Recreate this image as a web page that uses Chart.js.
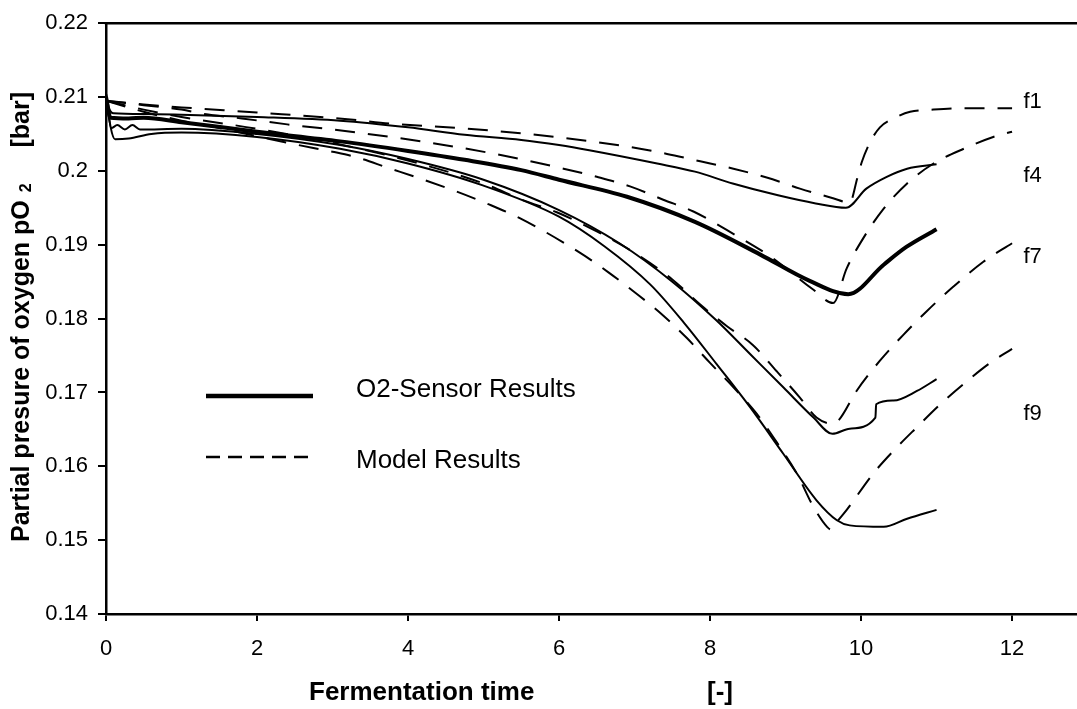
<!DOCTYPE html>
<html>
<head>
<meta charset="utf-8">
<script src="https://cdn.jsdelivr.net/npm/chart.js@4.4.1/dist/chart.umd.min.js"></script>
<style>
  html, body { margin: 0; padding: 0; background: #fff; overflow: hidden; }
</style>
</head>
<body>
<canvas id="o2Chart" width="1077" height="709"></canvas>
<script>
// fermentation runs f1..f9: sensor readings and model output (pO2 in bar)
const f1SensorT = [0, 0.04, 0.1, 0.5, 1, 2, 3.1, 4, 4.75, 5.5, 6.0, 6.4, 7.3, 7.8, 8.3, 8.9, 9.4, 9.8, 10.07, 10.34, 10.61, 11.0];
const f1SensorP = [0.2105, 0.2085, 0.2078, 0.2077, 0.2076, 0.2073, 0.2068, 0.2059, 0.2049, 0.2042, 0.2035, 0.2028, 0.2010, 0.1999, 0.1983, 0.1967, 0.1956, 0.1950, 0.1976, 0.1992, 0.2003, 0.2009];

const f1ModelT = [0, 0.5, 1, 2, 3.2, 3.76, 4.69, 5.59, 6.04, 6.5, 6.96, 7.43, 7.87, 8.31, 8.75, 9.19, 9.63, 9.85, 9.95, 10.01, 10.12, 10.25, 10.43, 10.65, 10.96, 11.4, 11.84, 12];
const f1ModelP = [0.2095, 0.2090, 0.2086, 0.2079, 0.2070, 0.2064, 0.2058, 0.2050, 0.2045, 0.2039, 0.2032, 0.2023, 0.2013, 0.2003, 0.1991, 0.1976, 0.1963, 0.1957, 0.1990, 0.2012, 0.2039, 0.2059, 0.2071, 0.2080, 0.2083, 0.2085, 0.2085, 0.2085];

const f4SensorT = [0, 0.06, 0.3, 0.5, 1, 2, 3.1, 4, 4.75, 5.5, 6.0, 6.9, 7.8, 8.66, 9.32, 9.83, 10.3, 10.6, 11.0];
const f4SensorP = [0.2100, 0.2072, 0.2071, 0.2072, 0.2066, 0.2053, 0.2040, 0.2027, 0.2015, 0.2001, 0.1988, 0.1965, 0.1931, 0.1887, 0.1851, 0.1833, 0.1873, 0.1897, 0.1921];

const f4ModelT = [0, 0.5, 1, 1.3, 1.8, 2.4, 3.0, 3.32, 4.24, 5.15, 6.06, 6.5, 6.94, 7.38, 7.78, 8.22, 8.8, 9.37, 9.63, 9.81, 10.03, 10.3, 10.61, 10.96, 11.36, 11.75, 12];
const f4ModelP = [0.2095, 0.2089, 0.2083, 0.2077, 0.2071, 0.2063, 0.2056, 0.2052, 0.2039, 0.2023, 0.2003, 0.1992, 0.1979, 0.1961, 0.1945, 0.1920, 0.1884, 0.1839, 0.1821, 0.1868, 0.1909, 0.1949, 0.1983, 0.2010, 0.2030, 0.2046, 0.2053];

const f7SensorT = [0, 0.07, 0.15, 0.25, 0.35, 0.45, 1, 2, 3.1, 4, 5, 6.0, 6.8, 7.5, 8.09, 8.53, 8.97, 9.37, 9.62, 9.85, 10.19, 10.2, 10.43, 10.74, 11.0];
const f7SensorP = [0.2100, 0.2058, 0.2062, 0.2056, 0.2062, 0.2056, 0.2057, 0.2050, 0.2035, 0.2016, 0.1988, 0.1947, 0.1902, 0.1850, 0.1797, 0.1752, 0.1707, 0.1666, 0.1644, 0.1651, 0.1666, 0.1684, 0.1689, 0.1702, 0.1718];

const f7ModelT = [0, 0.5, 1, 2, 3, 4, 5, 5.53, 5.97, 6.5, 7.0, 7.5, 7.87, 8.22, 8.57, 8.88, 9.19, 9.41, 9.6, 9.7, 9.94, 10.25, 10.56, 10.87, 11.22, 11.62, 12];
const f7ModelP = [0.2095, 0.2083, 0.2073, 0.2057, 0.2038, 0.2014, 0.1983, 0.1960, 0.1944, 0.1918, 0.1889, 0.1853, 0.1819, 0.1790, 0.1764, 0.1729, 0.1693, 0.1666, 0.1658, 0.1662, 0.1702, 0.1743, 0.1778, 0.1810, 0.1843, 0.1877, 0.1902];

const f9SensorT = [0, 0.06, 0.12, 0.3, 0.6, 1, 2, 3.1, 4, 5, 6.0, 6.6, 7.21, 7.65, 8.09, 8.53, 8.97, 9.41, 9.68, 9.85, 10.3, 10.61, 11.0];
const f9SensorP = [0.2105, 0.2060, 0.2043, 0.2044, 0.2050, 0.2052, 0.2046, 0.2030, 0.2010, 0.1980, 0.1938, 0.1898, 0.1846, 0.1795, 0.1738, 0.1680, 0.1617, 0.1554, 0.1527, 0.1520, 0.1518, 0.1529, 0.1541];

const f9ModelT = [0, 0.5, 1, 1.5, 2, 2.5, 3, 3.3, 3.74, 4.18, 4.62, 5.04, 5.48, 6.28, 6.65, 7.01, 7.36, 7.69, 8.0, 8.31, 8.62, 8.9, 9.15, 9.37, 9.55, 9.61, 9.66, 9.81, 10.16, 10.43, 10.74, 11.05, 11.4, 11.71, 12];
const f9ModelP = [0.2095, 0.2080, 0.2068, 0.2058, 0.2047, 0.2036, 0.2026, 0.2019, 0.2004, 0.1989, 0.1973, 0.1956, 0.1936, 0.1889, 0.1863, 0.1835, 0.1806, 0.1774, 0.1740, 0.1707, 0.1671, 0.1630, 0.1590, 0.1545, 0.1518, 0.1514, 0.1522, 0.1541, 0.1590, 0.1621, 0.1653, 0.1684, 0.1715, 0.1740, 0.1759];

// run labels at the right end of the curves
const runNames = ["f1", "f4", "f7", "f9"];
const runLabelT = [12.15, 12.15, 12.15, 12.15];
const runLabelP = [0.2093, 0.1993, 0.1884, 0.1671];

const legendNames = ["O2-Sensor Results", "Model Results"];
const xTitle = "Fermentation time";
const xUnit = "[-]";
const yTitle = "Partial presure of oxygen pO";
const ySub = "2";
const yUnit = "[bar]";

const FONT = "'Liberation Sans', Arial, sans-serif";

function pts(ts, ps) {
    return ts.map((t, i) => ({ x: t, y: ps[i] }));
}

function sensor(ts, ps, w) {
    return {
        data: pts(ts, ps),
        borderColor: "#000",
        borderWidth: w,
        pointRadius: 0,
        cubicInterpolationMode: "monotone",
        fill: false
    };
}

function model(ts, ps) {
    return {
        data: pts(ts, ps),
        borderColor: "#000",
        borderWidth: 2,
        borderDash: [20, 13],
        pointRadius: 0,
        cubicInterpolationMode: "monotone",
        fill: false
    };
}

// frame top, legend, run labels and axis titles
const decorations = {
    id: "decorations",
    afterDraw(chart) {
        const ctx = chart.ctx;
        const area = chart.chartArea;
        const xs = chart.scales.x;
        const ys = chart.scales.y;
        ctx.save();
        ctx.strokeStyle = "#000";
        ctx.fillStyle = "#000";

        ctx.lineWidth = 2.5;
        ctx.beginPath();
        ctx.moveTo(area.left - 1.25, area.top);
        ctx.lineTo(area.right, area.top);
        ctx.stroke();

        // legend
        ctx.lineWidth = 4.5;
        ctx.beginPath();
        ctx.moveTo(206, 396);
        ctx.lineTo(313, 396);
        ctx.stroke();
        ctx.lineWidth = 2.5;
        ctx.setLineDash([14, 8]);
        ctx.beginPath();
        ctx.moveTo(206, 457);
        ctx.lineTo(312, 457);
        ctx.stroke();
        ctx.setLineDash([]);
        ctx.font = "26px " + FONT;
        ctx.textAlign = "left";
        ctx.textBaseline = "alphabetic";
        ctx.fillText(legendNames[0], 356, 397);
        ctx.fillText(legendNames[1], 356, 468);

        // run labels
        ctx.font = "22px " + FONT;
        ctx.textBaseline = "middle";
        runNames.forEach((name, i) => {
            ctx.fillText(name, xs.getPixelForValue(runLabelT[i]), ys.getPixelForValue(runLabelP[i]));
        });

        // x title
        ctx.font = "bold 26px " + FONT;
        ctx.textBaseline = "alphabetic";
        ctx.fillText(xTitle, 309, 700);
        ctx.fillText(xUnit, 707, 700);

        // y title, rotated
        ctx.translate(29, 542);
        ctx.rotate(-Math.PI / 2);
        ctx.font = "bold 25px " + FONT;
        ctx.fillText(yTitle, 0, 0);
        const w = ctx.measureText(yTitle).width;
        ctx.font = "bold 16px " + FONT;
        ctx.fillText(ySub, w + 8, 2);
        ctx.font = "bold 25px " + FONT;
        ctx.textAlign = "right";
        ctx.fillText(yUnit, 450, 0);
        ctx.restore();
    }
};

const tickFont = { family: FONT, size: 22 };

new Chart(document.getElementById("o2Chart"), {
    type: "line",
    data: {
        datasets: [
            sensor(f1SensorT, f1SensorP, 2),
            model(f1ModelT, f1ModelP),
            sensor(f4SensorT, f4SensorP, 4),
            model(f4ModelT, f4ModelP),
            sensor(f7SensorT, f7SensorP, 2),
            model(f7ModelT, f7ModelP),
            sensor(f9SensorT, f9SensorP, 2),
            model(f9ModelT, f9ModelP)
        ]
    },
    options: {
        responsive: false,
        animation: false,
        layout: { padding: { top: 21, right: 0, bottom: 0, left: 0 } },
        plugins: {
            legend: { display: false },
            tooltip: { enabled: false }
        },
        scales: {
            x: {
                type: "linear",
                min: 0,
                max: 12.86,
                ticks: { stepSize: 2, includeBounds: false, padding: 15, color: "#000", font: tickFont, maxRotation: 0 },
                grid: { display: true, drawOnChartArea: false, drawTicks: true, tickLength: 7, color: "#000", lineWidth: 2 },
                border: { display: true, color: "#000", width: 2.5 },
                afterFit(scale) { scale.height = 95; }
            },
            y: {
                min: 0.14,
                max: 0.22,
                ticks: {
                    stepSize: 0.01,
                    padding: 10,
                    color: "#000",
                    font: tickFont,
                    callback: v => String(parseFloat(v.toFixed(2)))
                },
                grid: { display: true, drawOnChartArea: false, drawTicks: true, tickLength: 8, color: "#000", lineWidth: 2 },
                border: { display: true, color: "#000", width: 2.5 },
                afterFit(scale) { scale.width = 106; }
            }
        }
    },
    plugins: [decorations]
});
</script>
</body>
</html>
